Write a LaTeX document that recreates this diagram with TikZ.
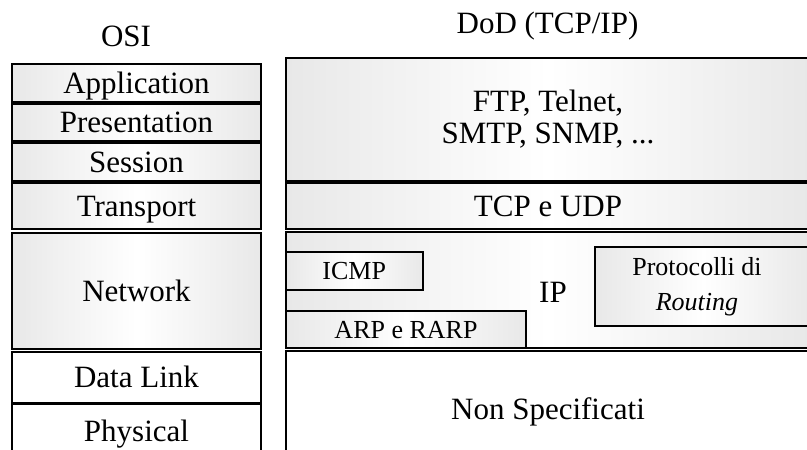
\documentclass[tikz,border=0pt]{standalone}
\usepackage{fontspec}
\setmainfont{Liberation Serif}
\begin{document}
\begin{tikzpicture}[x=1pt,y=-1pt,
  layer/.style={draw=black, line width=2pt, inner sep=0pt, left color=gray!18, right color=gray!18, middle color=white},
  plain/.style={draw=black, line width=2pt, inner sep=0pt, fill=white},
  big/.style={font=\fontsize{31}{32}\selectfont, align=center},
  small/.style={font=\fontsize{26}{35}\selectfont, align=center},
  one/.style={text height=20.5pt, text depth=0pt},
  onesmall/.style={text height=17.2pt, text depth=0pt},
  txt/.style={inner sep=0pt}]
\useasboundingbox (0,0) rectangle (807,450);
\clip (0,0) rectangle (807,450);
\fill[white] (0,0) rectangle (807,450);
% titles
\node[txt, big] (osi) at (126,36) {OSI};
\node[txt, big] (dod) at (547.5,26) {DoD (TCP/IP)};
% OSI column
\node[layer, big, one, minimum width=249pt, minimum height=38.5pt] (app) at (136.5,83) {Application};
\node[layer, big, one, minimum width=249pt, minimum height=37pt] (pres) at (136.5,122.5) {Presentation};
\node[layer, big, one, minimum width=249pt, minimum height=37.5pt] (sess) at (136.5,161.75) {Session};
\node[layer, big, one, minimum width=249pt, minimum height=45.5pt] (trans) at (136.5,205.75) {Transport};
\node[layer, big, one, minimum width=249pt, minimum height=116.5pt] (net) at (136.5,291) {Network};
\node[plain, big, one, minimum width=249pt, minimum height=51pt] (dl) at (136.5,377) {Data Link};
\node[plain, big, one, minimum width=249pt, minimum height=56pt] (phys) at (136.5,431.5) {Physical};
% DoD column
\node[layer, big, minimum width=524pt, minimum height=123pt] (ftp) at (548,119) {FTP, Telnet,\\SMTP, SNMP, ...};
\node[layer, big, one, minimum width=524pt, minimum height=45.5pt] (tcp) at (548,205.75) {TCP e UDP};
\node[layer, minimum width=524pt, minimum height=116.5pt] (ip) at (548,289.75) {};
\node[plain, big, one, minimum width=524pt, minimum height=117.5pt] (non) at (548,409.25) {Non Specificati};
% inside IP
\node[layer, small, onesmall, minimum width=136.5pt, minimum height=38pt] (icmp) at (354.25,270.5) {ICMP};
\node[layer, small, onesmall, minimum width=240pt, minimum height=37pt] (arp) at (406,329.5) {ARP e RARP};
\node[layer, minimum width=217pt, minimum height=79pt] (rout) at (703.5,286.5) {};
\node[txt, small] (routtext) at (697,287) {Protocolli di\\\textit{Routing}};
\node[txt, big, one] (iptext) at (553,292) {IP};
\end{tikzpicture}
\end{document}
